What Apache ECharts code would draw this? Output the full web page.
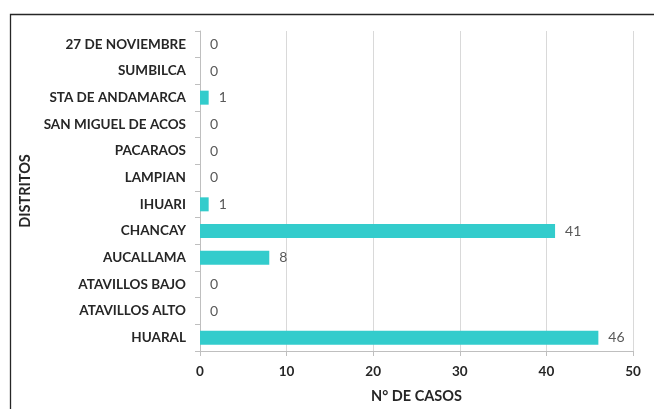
<!DOCTYPE html>
<html>
<head>
<meta charset="utf-8">
<script src="https://cdn.jsdelivr.net/npm/echarts@6/dist/echarts.min.js"></script>
<style>
  html, body { margin: 0; padding: 0; background: #fff; }
  #chart { width: 654px; height: 409px; }
</style>
</head>
<body>
<div id="chart"></div>
<script>
// bottom to top, as on the axis
const distritos = [
  "HUARAL", "ATAVILLOS ALTO", "ATAVILLOS BAJO", "AUCALLAMA", "CHANCAY", "IHUARI",
  "LAMPIAN", "PACARAOS", "SAN MIGUEL DE ACOS", "STA DE ANDAMARCA", "SUMBILCA", "27 DE NOVIEMBRE"
];
const casos = [46, 0, 0, 8, 41, 1, 0, 0, 0, 1, 0, 0];
const xTicks = [0, 10, 20, 30, 40, 50];

const chart = echarts.init(document.getElementById("chart"));

const font = "Lato, 'Open Sans', sans-serif";

chart.setOption({
  animation: false,
  textStyle: { fontFamily: font },
  graphic: [{
    type: "rect",
    left: 8, top: 12,
    shape: { width: 700, height: 450 },
    style: { fill: "none", stroke: "#262626", lineWidth: 1.3 },
    silent: true
  }],
  grid: { left: 200, right: 21, top: 31, bottom: 56 },
  xAxis: {
    type: "value",
    min: xTicks[0],
    max: xTicks[xTicks.length - 1],
    interval: 10,
    name: "N° DE CASOS",
    nameLocation: "middle",
    nameGap: 38,
    nameTextStyle: { color: "#262626", fontWeight: "bold", fontSize: 14.5, fontFamily: font },
    axisLine: { show: true, lineStyle: { color: "#bfbfbf" } },
    axisTick: { show: true, length: 5, lineStyle: { color: "#bfbfbf" } },
    axisLabel: { color: "#262626", fontWeight: "bold", fontSize: 13.5, margin: 14, fontFamily: font },
    splitLine: { show: true, lineStyle: { color: "#d9d9d9" } }
  },
  yAxis: {
    type: "category",
    data: distritos,
    name: "DISTRITOS",
    nameLocation: "middle",
    nameRotate: 90,
    nameGap: 166,
    nameTextStyle: { color: "#262626", fontWeight: "bold", fontSize: 14.5, fontFamily: font },
    axisLine: { show: true, lineStyle: { color: "#bfbfbf" } },
    axisTick: { show: true, length: 5, lineStyle: { color: "#bfbfbf" } },
    axisLabel: { color: "#262626", fontWeight: "bold", fontSize: 13.5, margin: 14, fontFamily: font },
    splitLine: { show: false }
  },
  series: [{
    type: "bar",
    data: casos,
    barWidth: 14,
    itemStyle: { color: "#33cccc" },
    label: {
      show: true,
      position: "right",
      distance: 10,
      color: "#595959",
      fontSize: 14,
      fontFamily: font
    }
  }]
});
</script>
</body>
</html>
